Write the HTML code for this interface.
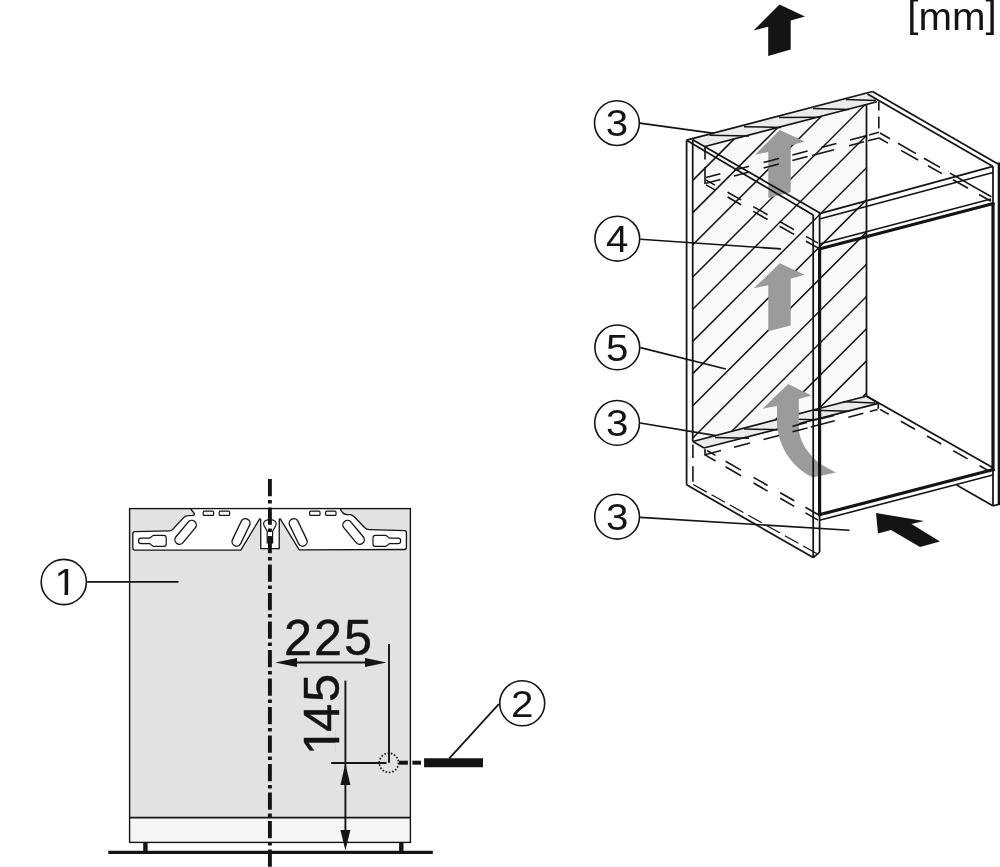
<!DOCTYPE html>
<html><head><meta charset="utf-8"><title>Installation dimensions</title>
<style>
html,body{margin:0;padding:0;background:#fff;}
body{width:1000px;height:867px;overflow:hidden;}
svg{display:block;filter:grayscale(1);font-family:"Liberation Sans",sans-serif;fill:#141414;}
</style></head><body>
<svg width="1000" height="867" viewBox="0 0 1000 867">
<rect width="1000" height="867" fill="#fff" stroke="none"/>
<defs><clipPath id="c145"><path clip-rule="evenodd" d="M-10,-60 H200 V20 H-10 Z M4.5,-4.15 H14.0 V2 H4.5 Z M18.75,-4.15 H28 V2 H18.75 Z"/></clipPath><clipPath id="c1"><path clip-rule="evenodd" d="M-30,-40 H30 V10 H-30 Z M-8.6,-3.7 H-1.0 V2 H-8.6 Z M2.3,-3.7 H9.6 V2 H2.3 Z"/></clipPath></defs>
<g stroke="#141414" fill="none" stroke-linecap="butt">
<polygon stroke="none" fill="#f9f9f9" points="692.7,139.8 705,146.5 866.5,104.4 866.5,395.6 692.8,441.5"/>
<polygon stroke="none" fill="#ebebeb" points="689,139.6 872.5,91.5 877,101.7 705,146.5"/>
<polygon stroke="none" fill="#ebebeb" points="692.8,441.5 866.9,396 878.3,403.4 704,448"/>
<line x1="692.8" y1="180.4" x2="734.3" y2="138.9" stroke-width="1.5" />
<line x1="692.8" y1="212.6" x2="777.9" y2="127.5" stroke-width="1.5" />
<line x1="692.8" y1="244.8" x2="821.4" y2="116.2" stroke-width="1.5" />
<line x1="692.8" y1="277.0" x2="865.0" y2="104.8" stroke-width="1.5" />
<line x1="692.8" y1="309.2" x2="866.5" y2="135.5" stroke-width="1.5" />
<line x1="692.8" y1="341.4" x2="866.5" y2="167.7" stroke-width="1.5" />
<line x1="692.8" y1="373.6" x2="866.5" y2="199.9" stroke-width="1.5" />
<line x1="692.8" y1="405.8" x2="866.5" y2="232.1" stroke-width="1.5" />
<line x1="692.8" y1="438.0" x2="866.5" y2="264.3" stroke-width="1.5" />
<line x1="731.8" y1="431.2" x2="866.5" y2="296.5" stroke-width="1.5" />
<line x1="775.6" y1="419.6" x2="866.5" y2="328.7" stroke-width="1.5" />
<line x1="819.3" y1="408.1" x2="866.5" y2="360.9" stroke-width="1.5" />
<line x1="863.1" y1="396.5" x2="866.5" y2="393.1" stroke-width="1.5" />
<line x1="715.0" y1="437.5" x2="749.0" y2="438.2" stroke-width="1.5" />
<line x1="744.0" y1="429.0" x2="778.0" y2="429.7" stroke-width="1.5" />
<line x1="779.5" y1="419.0" x2="817.2" y2="419.7" stroke-width="1.5" />
<line x1="814.0" y1="410.2" x2="849.7" y2="411.2" stroke-width="1.5" />
<line x1="843.2" y1="401.8" x2="875.0" y2="403.1" stroke-width="1.5" />
<line x1="692.8" y1="441.5" x2="866.9" y2="396.0" stroke-width="1.6" />
<line x1="704.0" y1="448.0" x2="878.3" y2="403.4" stroke-width="1.6" />
<line x1="692.8" y1="441.5" x2="704.0" y2="448.0" stroke-width="1.6" />
<polygon stroke="none" fill="#9b9b9b" points="779.8,130 804.6,141.5 790.7,145.6 790.7,192.3 768.3,198 768.3,151.9 755,154.8"/>
<polygon stroke="none" fill="#9b9b9b" points="779.8,263.3 804.6,274.8 790.7,278.8 790.7,325.5 768.3,331.3 768.3,285.2 753.8,288.3"/>
<path stroke="none" fill="#9b9b9b" d="M788.1,383.9 L811.6,395.6 L798.8,399.1 L798.8,428 C799.5,441 806,452 820.6,464.2 L835.9,472.5 L813,477.6 C795,469 779.5,451 777,425 L777,406 L762.5,408.8 Z"/>
<line x1="709.5" y1="135.3" x2="749.0" y2="136.0" stroke-width="1.5" />
<line x1="744.0" y1="126.8" x2="781.0" y2="127.4" stroke-width="1.5" />
<line x1="779.0" y1="117.4" x2="820.5" y2="117.3" stroke-width="1.5" />
<line x1="813.0" y1="108.5" x2="849.0" y2="109.5" stroke-width="1.5" />
<line x1="846.0" y1="99.5" x2="876.0" y2="100.5" stroke-width="1.5" />
<line x1="686.6" y1="140.2" x2="686.6" y2="484.8" stroke-width="1.75" />
<line x1="692.7" y1="139.8" x2="692.7" y2="441.6" stroke-width="1.75" />
<line x1="692.9" y1="444.4" x2="692.9" y2="457.9" stroke-width="1.6" />
<line x1="692.9" y1="466.2" x2="692.9" y2="481.8" stroke-width="1.6" />
<line x1="686.6" y1="484.8" x2="813.2" y2="557.6" stroke-width="1.75" />
<line x1="693.2" y1="484.5" x2="818.5" y2="554.5" stroke-width="1.3" stroke-dasharray="15.5 5.5" />
<line x1="813.2" y1="214.8" x2="813.2" y2="557.6" stroke-width="1.75" />
<line x1="819.6" y1="213.0" x2="819.6" y2="552.2" stroke-width="1.75" />
<line x1="819.6" y1="248.0" x2="819.6" y2="516.0" stroke-width="3.2" />
<line x1="813.2" y1="557.6" x2="819.6" y2="552.2" stroke-width="1.75" />
<line x1="686.6" y1="140.2" x2="813.2" y2="215.0" stroke-width="1.75" />
<line x1="692.7" y1="139.8" x2="820.0" y2="213.0" stroke-width="1.75" />
<line x1="686.6" y1="140.2" x2="872.5" y2="91.5" stroke-width="1.75" />
<line x1="705.0" y1="146.5" x2="877.0" y2="101.7" stroke-width="1.6" />
<line x1="866.5" y1="104.3" x2="866.5" y2="395.8" stroke-width="1.75" />
<line x1="872.5" y1="91.5" x2="998.0" y2="164.0" stroke-width="1.75" />
<line x1="867.5" y1="94.0" x2="993.0" y2="166.4" stroke-width="1.75" />
<line x1="993.0" y1="166.4" x2="993.0" y2="505.8" stroke-width="1.75" />
<line x1="993.0" y1="202.5" x2="993.0" y2="471.0" stroke-width="3.2" />
<line x1="999.2" y1="162.5" x2="999.2" y2="504.5" stroke-width="3" />
<line x1="819.6" y1="213.6" x2="993.0" y2="166.4" stroke-width="1.75" />
<line x1="819.6" y1="219.0" x2="993.0" y2="172.5" stroke-width="1.75" />
<line x1="819.6" y1="244.0" x2="991.0" y2="199.0" stroke-width="1.5" />
<line x1="818.2" y1="249.3" x2="994.4" y2="203.3" stroke-width="3.2" />
<line x1="818.2" y1="515.0" x2="994.4" y2="469.3" stroke-width="3.2" />
<line x1="819.6" y1="520.2" x2="992.8" y2="475.1" stroke-width="1.6" />
<line x1="956.6" y1="485.0" x2="992.8" y2="505.8" stroke-width="1.75" />
<line x1="992.8" y1="505.8" x2="1000.0" y2="504.0" stroke-width="1.75" />
<line x1="866.9" y1="396.2" x2="992.6" y2="467.6" stroke-width="1.75" />
<line x1="866.9" y1="396.2" x2="878.3" y2="403.4" stroke-width="1.6" />
<line x1="878.3" y1="403.4" x2="878.3" y2="408.8" stroke-width="1.6" />
<line x1="705.0" y1="145.8" x2="705.0" y2="159.5" stroke-width="1.6" />
<line x1="705.0" y1="167.0" x2="705.0" y2="184.0" stroke-width="1.6" />
<line x1="878.8" y1="101.5" x2="878.8" y2="110.5" stroke-width="1.6" />
<line x1="878.8" y1="116.5" x2="878.8" y2="128.5" stroke-width="1.6" />
<line x1="706.0" y1="177.6" x2="720.4" y2="173.8" stroke-width="1.6" />
<line x1="734.0" y1="170.3" x2="749.2" y2="166.3" stroke-width="1.6" />
<line x1="763.6" y1="162.5" x2="778.8" y2="158.5" stroke-width="1.6" />
<line x1="792.4" y1="155.0" x2="807.6" y2="151.0" stroke-width="1.6" />
<line x1="821.2" y1="147.4" x2="836.4" y2="143.4" stroke-width="1.6" />
<line x1="850.0" y1="139.9" x2="866.0" y2="135.7" stroke-width="1.6" />
<line x1="869.0" y1="134.9" x2="879.0" y2="132.3" stroke-width="1.6" />
<line x1="706.0" y1="183.2" x2="720.4" y2="179.4" stroke-width="1.6" />
<line x1="734.0" y1="175.9" x2="749.2" y2="171.9" stroke-width="1.6" />
<line x1="763.6" y1="168.1" x2="778.8" y2="164.1" stroke-width="1.6" />
<line x1="792.4" y1="160.6" x2="807.6" y2="156.6" stroke-width="1.6" />
<line x1="812.0" y1="155.4" x2="834.0" y2="149.7" stroke-width="1.6" />
<line x1="849.0" y1="145.7" x2="864.0" y2="141.8" stroke-width="1.6" />
<line x1="868.0" y1="140.8" x2="879.0" y2="137.9" stroke-width="1.6" />
<line x1="880.0" y1="133.0" x2="890.0" y2="138.7" stroke-width="1.6" />
<line x1="898.0" y1="143.3" x2="916.0" y2="153.6" stroke-width="1.6" />
<line x1="924.0" y1="158.2" x2="940.0" y2="167.4" stroke-width="1.6" />
<line x1="950.0" y1="173.1" x2="991.4" y2="196.8" stroke-width="1.6" />
<line x1="879.0" y1="138.0" x2="888.0" y2="143.1" stroke-width="1.6" />
<line x1="901.0" y1="150.4" x2="918.0" y2="160.0" stroke-width="1.6" />
<line x1="928.0" y1="165.7" x2="942.0" y2="173.6" stroke-width="1.6" />
<line x1="953.0" y1="179.8" x2="968.0" y2="188.3" stroke-width="1.6" />
<line x1="979.0" y1="194.5" x2="991.0" y2="201.3" stroke-width="1.6" />
<line x1="706.0" y1="180.1" x2="715.0" y2="185.1" stroke-width="1.6" />
<line x1="727.6" y1="192.2" x2="741.2" y2="199.9" stroke-width="1.6" />
<line x1="753.2" y1="206.6" x2="767.6" y2="214.7" stroke-width="1.6" />
<line x1="779.6" y1="221.5" x2="794.0" y2="229.6" stroke-width="1.6" />
<line x1="806.0" y1="236.4" x2="818.0" y2="243.1" stroke-width="1.6" />
<line x1="706.0" y1="184.9" x2="715.0" y2="189.9" stroke-width="1.6" />
<line x1="727.6" y1="197.0" x2="741.2" y2="204.7" stroke-width="1.6" />
<line x1="753.2" y1="211.4" x2="767.6" y2="219.5" stroke-width="1.6" />
<line x1="779.6" y1="226.3" x2="794.0" y2="234.4" stroke-width="1.6" />
<line x1="806.0" y1="241.2" x2="818.0" y2="247.9" stroke-width="1.6" />
<line x1="705.0" y1="449.0" x2="705.0" y2="455.5" stroke-width="1.6" />
<line x1="707.0" y1="450.5" x2="715.5" y2="455.4" stroke-width="1.6" />
<line x1="725.6" y1="461.2" x2="741.0" y2="470.1" stroke-width="1.6" />
<line x1="753.6" y1="477.4" x2="767.6" y2="485.5" stroke-width="1.6" />
<line x1="780.2" y1="492.7" x2="794.2" y2="500.8" stroke-width="1.6" />
<line x1="805.4" y1="507.3" x2="818.0" y2="514.5" stroke-width="1.6" />
<line x1="705.0" y1="454.9" x2="715.5" y2="461.0" stroke-width="1.6" />
<line x1="725.6" y1="466.8" x2="741.0" y2="475.7" stroke-width="1.6" />
<line x1="753.6" y1="483.0" x2="767.6" y2="491.1" stroke-width="1.6" />
<line x1="780.2" y1="498.3" x2="794.2" y2="506.4" stroke-width="1.6" />
<line x1="805.4" y1="512.9" x2="818.0" y2="520.1" stroke-width="1.6" />
<line x1="706.0" y1="454.5" x2="721.0" y2="450.6" stroke-width="1.6" />
<line x1="734.0" y1="447.2" x2="750.0" y2="443.0" stroke-width="1.6" />
<line x1="763.5" y1="439.4" x2="779.0" y2="435.4" stroke-width="1.6" />
<line x1="792.5" y1="431.8" x2="807.5" y2="427.9" stroke-width="1.6" />
<line x1="810.7" y1="427.1" x2="834.8" y2="420.8" stroke-width="1.6" />
<line x1="848.4" y1="417.2" x2="863.4" y2="413.3" stroke-width="1.6" />
<line x1="869.9" y1="411.6" x2="877.6" y2="409.5" stroke-width="1.6" />
<line x1="792.5" y1="426.2" x2="806.8" y2="422.5" stroke-width="1.6" />
<line x1="821.0" y1="418.8" x2="834.0" y2="415.4" stroke-width="1.6" />
<line x1="880.0" y1="409.4" x2="888.7" y2="414.3" stroke-width="1.6" />
<line x1="900.8" y1="421.2" x2="915.0" y2="429.2" stroke-width="1.6" />
<line x1="927.0" y1="436.0" x2="941.3" y2="444.0" stroke-width="1.6" />
<line x1="953.3" y1="450.8" x2="967.6" y2="458.9" stroke-width="1.6" />
<line x1="979.6" y1="465.7" x2="990.6" y2="471.9" stroke-width="1.6" />
<line x1="639.8" y1="123.1" x2="714.2" y2="133.4" stroke-width="1.6" />
<line x1="640.4" y1="239.2" x2="781.1" y2="248.9" stroke-width="1.6" />
<line x1="640.4" y1="347.6" x2="725.8" y2="369.0" stroke-width="1.6" />
<line x1="640.2" y1="423.0" x2="715.8" y2="435.6" stroke-width="1.6" />
<line x1="640.2" y1="517.4" x2="849.4" y2="530.2" stroke-width="1.6" />
</g>
<polygon fill="#141414" points="779.5,4.5 805,16.5 790.7,20.5 790.7,49.5 768.2,56 768.2,26.8 753.5,30.5"/>
<polygon fill="#141414" points="876,513 924,521 911.5,524 940,541.5 920,547 891,530 878,533.5"/>
<circle cx="616.9" cy="123.1" r="22.4" fill="#fff" stroke="#141414" stroke-width="1.6"/>
<text transform="translate(616.9,136.3) scale(1.09,1)" font-size="37" text-anchor="middle">3</text>
<circle cx="617.3" cy="238.7" r="22.4" fill="#fff" stroke="#141414" stroke-width="1.6"/>
<text transform="translate(617.3,251.9) scale(1.09,1)" font-size="37" text-anchor="middle">4</text>
<circle cx="617.3" cy="347.4" r="22.4" fill="#fff" stroke="#141414" stroke-width="1.6"/>
<text transform="translate(617.3,360.6) scale(1.09,1)" font-size="37" text-anchor="middle">5</text>
<circle cx="617.1" cy="422.9" r="22.4" fill="#fff" stroke="#141414" stroke-width="1.6"/>
<text transform="translate(617.1,436.1) scale(1.09,1)" font-size="37" text-anchor="middle">3</text>
<circle cx="617.1" cy="516.7" r="22.4" fill="#fff" stroke="#141414" stroke-width="1.6"/>
<text transform="translate(617.1,529.9) scale(1.09,1)" font-size="37" text-anchor="middle">3</text>
<circle cx="63.8" cy="582" r="22.6" fill="#fff" stroke="#141414" stroke-width="1.6"/>
<text clip-path="url(#c1)" transform="translate(65.6,595.2) scale(1.09,1)" font-size="37" text-anchor="middle">1</text>
<circle cx="522.2" cy="703.3" r="22.5" fill="#fff" stroke="#141414" stroke-width="1.6"/>
<text transform="translate(522.2,716.5) scale(1.09,1)" font-size="37" text-anchor="middle">2</text>
<text x="907.2" y="29.7" font-size="38.5" textLength="89.5" lengthAdjust="spacingAndGlyphs"><tspan dy="-2.4">[</tspan><tspan dy="2.4">mm</tspan><tspan dy="-2.4">]</tspan></text>
<rect x="129.6" y="508.6" width="280.8" height="333.8" fill="#e2e2e2" stroke="none"/>
<rect x="129.6" y="817.6" width="280.8" height="24.8" fill="#f6f6f6" stroke="none"/>
<g stroke="#141414" fill="none">
<rect x="129.6" y="508.6" width="280.8" height="333.8" stroke-width="1.4"/>
<line x1="129.6" y1="817.6" x2="410.4" y2="817.6" stroke-width="1.6" />
<line x1="108.3" y1="852.4" x2="432.8" y2="852.4" stroke-width="3.2" />
<line x1="145.4" y1="842.4" x2="145.4" y2="852.0" stroke-width="4.4" />
<line x1="401.3" y1="842.4" x2="401.3" y2="852.0" stroke-width="4.4" />
<path d="M190.4,508.6 L340,508.6 L342.5,512.5 Q344,514.6 347,514.6 L350,514.6 Q352.5,514.8 354.5,517 L364.5,527.5 Q366.5,529.6 369.5,529.6 L404.4,530.6 Q406.4,530.7 406.4,532.7 L406.4,547.5 Q406.4,549.5 404.4,549.5 L299.2,549.9 L280.6,519.3 Q279.9,518.2 279.3,519.5 L279.2,548.7 L260.8,548.7 L260.7,519.5 Q260.1,518.2 259.4,519.3 L240.8,550.1 L134.8,550.1 Q132.8,550.1 132.8,548.1 L132.8,533.6 Q132.8,531.6 134.8,531.6 L169,530.9 Q171.5,530.9 173.3,528.8 L183.6,517.6 Q185.3,515.7 188,515.6 L192.8,515.3 Q195,515 194,513 Z" fill="#fff" stroke-width="1.3" stroke-linejoin="round"/>
<line x1="179.5" y1="539.7" x2="191.7" y2="525" stroke-width="10.5" stroke-linecap="round"/>
<line x1="179.5" y1="539.7" x2="191.7" y2="525" stroke="#fff" stroke-width="7.8" stroke-linecap="round"/>
<line x1="236.6" y1="541.6" x2="245.4" y2="523.2" stroke-width="10.5" stroke-linecap="round"/>
<line x1="236.6" y1="541.6" x2="245.4" y2="523.2" stroke="#fff" stroke-width="7.8" stroke-linecap="round"/>
<line x1="359.70000000000005" y1="539.7" x2="347.50000000000006" y2="525" stroke-width="10.5" stroke-linecap="round"/>
<line x1="359.70000000000005" y1="539.7" x2="347.50000000000006" y2="525" stroke="#fff" stroke-width="7.8" stroke-linecap="round"/>
<line x1="302.6" y1="541.6" x2="293.80000000000007" y2="523.2" stroke-width="10.5" stroke-linecap="round"/>
<line x1="302.6" y1="541.6" x2="293.80000000000007" y2="523.2" stroke="#fff" stroke-width="7.8" stroke-linecap="round"/>
<rect x="203.2" y="511.2" width="10.4" height="4.2" rx="1" stroke-width="1.2" fill="#fff"/>
<rect x="219.2" y="511.2" width="10.4" height="4.2" rx="1" stroke-width="1.2" fill="#fff"/>
<rect x="309.6" y="511.2" width="10.4" height="4.2" rx="1" stroke-width="1.2" fill="#fff"/>
<rect x="325.6" y="511.2" width="10.4" height="4.2" rx="1" stroke-width="1.2" fill="#fff"/>
<path d="M141.2,538.2 h8.5 l3.6,-2.8 h10.6 q2.3,0 2.3,2.3 v6.4 q0,2.3 -2.3,2.3 h-10.6 l-3.6,-2.8 h-8.5 q-2.7,0 -2.7,-2.7 q0,-2.7 2.7,-2.7 z" stroke-width="1.2" fill="#fff"/>
<path d="M398,538.2 h-8.5 l-3.6,-2.8 h-10.6 q-2.3,0 -2.3,2.3 v6.4 q0,2.3 2.3,2.3 h10.6 l3.6,-2.8 h8.5 q2.7,0 2.7,-2.7 q0,-2.7 -2.7,-2.7 z" stroke-width="1.2" fill="#fff"/>
<path d="M269.9,519.6 C273.5,519.6 276.2,521.3 276.2,523.8 C276.2,526.6 273.4,528.6 272.6,531.4 L272.6,543 L267.2,543 L267.2,531.4 C266.4,528.6 263.6,526.6 263.6,523.8 C263.6,521.3 266.3,519.6 269.9,519.6 Z" stroke-width="1.2" fill="#fff"/>
<line x1="269.9" y1="536.5" x2="269.9" y2="542.6" stroke-width="4.8"/>
<line x1="269.9" y1="478.9" x2="269.9" y2="867" stroke-width="3.9" stroke-dasharray="17.3 3.9 3.4 3.9"/>
<line x1="291.0" y1="662.5" x2="372.0" y2="662.5" stroke-width="1.8" />
<line x1="389.0" y1="644.0" x2="389.0" y2="762.8" stroke-width="1.9" />
<line x1="345.4" y1="680.6" x2="345.4" y2="835.0" stroke-width="1.9" />
<line x1="331.2" y1="763.0" x2="386.5" y2="763.0" stroke-width="1.8" />
<circle cx="388.9" cy="762.8" r="9.6" stroke-width="1.7" stroke-dasharray="1.6 1.75"/>
<line x1="398.9" y1="762.7" x2="407.9" y2="762.7" stroke-width="4" />
<line x1="412.4" y1="762.7" x2="421.0" y2="762.7" stroke-width="4" />
<line x1="424.1" y1="762.7" x2="483.0" y2="762.7" stroke-width="9" />
<line x1="449.3" y1="758.4" x2="498.8" y2="704.2" stroke-width="1.75" />
<line x1="87.2" y1="581.9" x2="178.5" y2="581.9" stroke-width="1.75" />
</g>
<g fill="#141414">
<polygon points="275.2,662.5 297,657.9 297,667.1"/>
<polygon points="386.6,662.5 365,657.9 365,667.1"/>
<polygon points="345.4,763.6 340.4,785 350.4,785"/>
<polygon points="345.4,850.4 340.4,830 350.4,830"/>
</g>
<text x="284 314 344" y="654.8" font-size="50.3" stroke="#141414" stroke-width="0.45">225</text>
<text clip-path="url(#c145)" transform="translate(339.2,756.6) rotate(-90)" x="1.4 24.7 54.5" y="0" font-size="50.6" stroke="#141414" stroke-width="0.45">145</text>
</svg>
</body></html>
